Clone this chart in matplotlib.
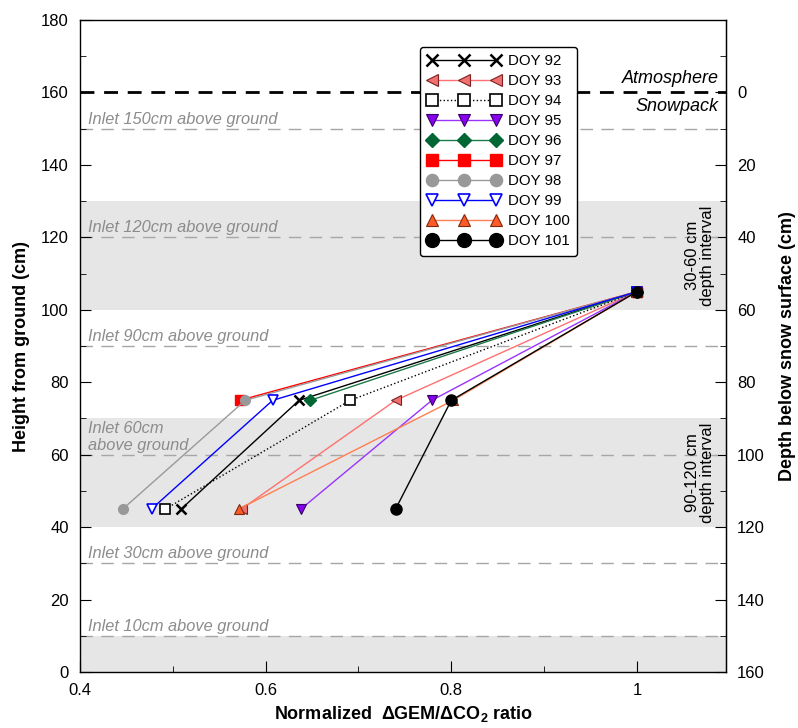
import matplotlib.pyplot as plt
from matplotlib.ticker import MultipleLocator

plt.rcParams['font.family'] = ['Liberation Sans', 'DejaVu Sans']
plt.rcParams['mathtext.fontset'] = 'custom'
plt.rcParams['mathtext.rm'] = 'Liberation Sans'
plt.rcParams['mathtext.bf'] = 'Liberation Sans:bold'

# ratio profiles, heights in cm above ground
labels = ['DOY 92', 'DOY 93', 'DOY 94', 'DOY 95', 'DOY 96',
          'DOY 97', 'DOY 98', 'DOY 99', 'DOY 100', 'DOY 101']
heights_3 = [45, 75, 105]
heights_2 = [75, 105]
doy92 = [0.509, 0.636, 1.0]
doy93 = [0.574, 0.740, 1.0]
doy94 = [0.492, 0.691, 1.0]
doy95 = [0.638, 0.779, 1.0]
doy96 = [0.648, 1.0]
doy97 = [0.572, 1.0]
doy98 = [0.446, 0.578, 1.0]
doy99 = [0.477, 0.6075, 1.0]
doy100 = [0.571, 0.802, 1.0]
doy101 = [0.740, 0.800, 1.0]

inlet_heights = [150, 120, 90, 60, 30, 10]
inlet_labels = ['Inlet 150cm above ground', 'Inlet 120cm above ground',
                'Inlet 90cm above ground', 'Inlet 60cm\nabove ground',
                'Inlet 30cm above ground', 'Inlet 10cm above ground']
bands = [(100, 130), (40, 70), (0, 10)]
snow_surface = 160

fig = plt.figure(figsize=(7.98, 7.28), dpi=100)
ax = fig.add_axes([0.1003, 0.0769, 0.8095, 0.8956])
ax.set_xlim(0.4, 1.096)
ax.set_ylim(0, 180)

for lo, hi in bands:
    ax.axhspan(lo, hi, color='#e6e6e6', lw=0, zorder=0)

for h, t in zip(inlet_heights, inlet_labels):
    ax.axhline(h, color='#a6a6a6', lw=1.0, dashes=(9, 6), zorder=1)
    ax.text(0.409, h + 0.6, t, color='#8c8c8c', style='italic', fontsize=11.8,
            ha='left', va='bottom', linespacing=1.1, zorder=2)

ax.axhline(snow_surface, color='black', lw=2.0, dashes=(5, 3.5), zorder=2)
ax.text(1.088, snow_surface + 1.5, 'Atmosphere', style='italic', fontsize=13,
        ha='right', va='bottom')
ax.text(1.088, snow_surface - 1.5, 'Snowpack', style='italic', fontsize=13,
        ha='right', va='top')

ax.text(1.068, 115, '30-60 cm\ndepth interval', rotation=90, fontsize=12,
        ha='center', va='center', linespacing=1.0)
ax.text(1.068, 55, '90-120 cm\ndepth interval', rotation=90, fontsize=12,
        ha='center', va='center', linespacing=1.0)

ms = 7
ax.plot(doy92, heights_3, '-', color='black', lw=1.0, marker='x', ms=ms,
        mew=1.8, label=labels[0], zorder=4)
ax.plot(doy93, heights_3, '-', color='#ff7070', lw=1.0, marker='<', ms=ms,
        mfc='#f07070', mec='#7a2020', mew=0.8, label=labels[1], zorder=4)
ax.plot(doy94, heights_3, ':', color='black', lw=1.0, marker='s', ms=ms,
        mfc='white', mec='black', mew=1.2, label=labels[2], zorder=4)
ax.plot(doy95, heights_3, '-', color='#9933ff', lw=1.0, marker='v', ms=ms,
        mfc='#8800ee', mec='#330066', mew=0.8, label=labels[3], zorder=4)
ax.plot(doy96, heights_2, '-', color='#1f7a4a', lw=1.0, marker='D', ms=6,
        mfc='#006633', mec='#006633', label=labels[4], zorder=4)
ax.plot(doy97, heights_2, '-', color='#ff0000', lw=1.0, marker='s', ms=ms,
        mfc='#ff0000', mec='#ff0000', label=labels[5], zorder=4)
ax.plot(doy98, heights_3, '-', color='#999999', lw=1.0, marker='o', ms=ms,
        mfc='#999999', mec='#999999', label=labels[6], zorder=4)
ax.plot(doy99, heights_3, '-', color='#0000ff', lw=1.0, marker='v', ms=ms,
        mfc='white', mec='#0000ff', mew=1.2, label=labels[7], zorder=4)
ax.plot(doy100, heights_3, '-', color='#ff7f50', lw=1.0, marker='^', ms=ms,
        mfc='#ff5a28', mec='#7a2a10', mew=0.8, label=labels[8], zorder=4)
ax.plot(doy101, heights_3, '-', color='black', lw=1.0, marker='o', ms=8,
        mfc='black', mec='black', label=labels[9], zorder=5)

leg = ax.legend(loc='upper left', bbox_to_anchor=(0.526, 0.959), numpoints=3,
                fontsize=10.8, handlelength=4.9, handletextpad=0.45,
                labelspacing=0.4, borderpad=0.5, borderaxespad=0,
                markerscale=1.25, fancybox=True, framealpha=1,
                edgecolor='black')
leg.get_frame().set_linewidth(1.0)

ax.xaxis.set_major_locator(MultipleLocator(0.2))
ax.xaxis.set_minor_locator(MultipleLocator(0.1))
ax.yaxis.set_major_locator(MultipleLocator(20))
ax.yaxis.set_minor_locator(MultipleLocator(10))
ax.set_xticks([0.4, 0.6, 0.8, 1.0], ['0.4', '0.6', '0.8', '1'])
ax.tick_params(which='major', direction='in', length=8, labelsize=12, pad=8)
ax.tick_params(which='minor', direction='in', length=4)
ax.tick_params(axis='y', right=False)

ax.set_xlabel('Normalized  \u0394GEM/\u0394CO$_\\mathbf{2}$ ratio',
              fontsize=13, fontweight='bold', labelpad=4)
ax.set_ylabel('Height from ground (cm)', fontsize=13, fontweight='bold', labelpad=8)

depth = ax.secondary_yaxis('right', functions=(lambda h: snow_surface - h,
                                               lambda d: snow_surface - d))
depth.set_ticks(range(0, 161, 20))
depth.yaxis.set_minor_locator(MultipleLocator(10))
depth.tick_params(which='major', direction='in', length=8, labelsize=12, pad=8)
depth.tick_params(which='minor', direction='in', length=4)
depth.set_ylabel('Depth below snow surface (cm)', fontsize=13, fontweight='bold',
                 labelpad=10)

for s in ax.spines.values():
    s.set_linewidth(1.0)

fig.savefig('out.png', dpi=100)
